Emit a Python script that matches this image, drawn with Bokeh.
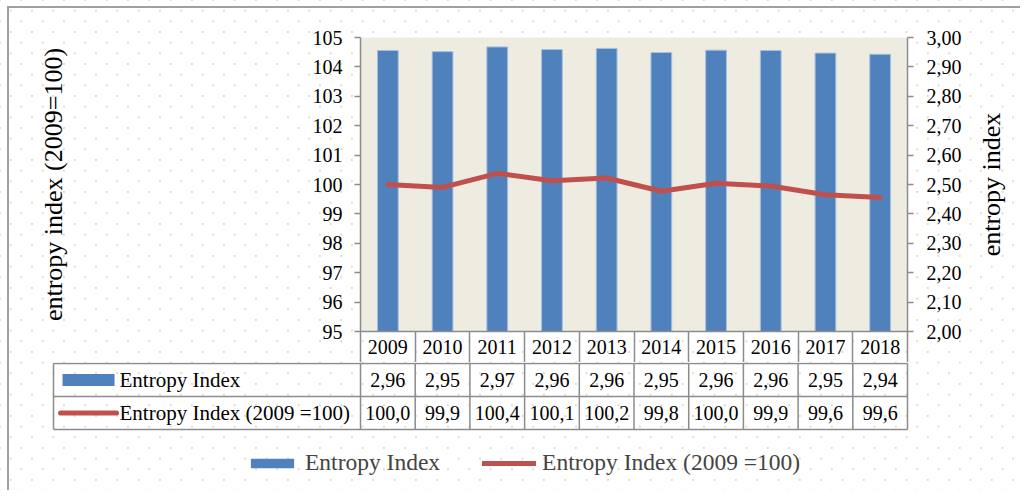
import math
from bokeh.plotting import figure
from bokeh.models import (Range1d, LinearAxis, FixedTicker, CustomJSTickFormatter,
                          Legend, LegendItem)
from bokeh.layouts import column, row
from bokeh.embed import file_html
from bokeh.resources import INLINE
from bokeh.core.properties import value

# ---------------- data ----------------
years = ["2009", "2010", "2011", "2012", "2013", "2014", "2015", "2016", "2017", "2018"]
entropy_index = [2.956, 2.952, 2.968, 2.959, 2.963, 2.949, 2.957, 2.956, 2.947, 2.943]
entropy_rel = [100.0, 99.90, 100.38, 100.13, 100.22, 99.77, 100.04, 99.95, 99.65, 99.56]
entropy_index_labels = ["2,96", "2,95", "2,97", "2,96", "2,96", "2,95", "2,96", "2,96", "2,95", "2,94"]
entropy_rel_labels = ["100,0", "99,9", "100,4", "100,1", "100,2", "99,8", "100,0", "99,9", "99,6", "99,6"]
left_ticks = [95, 96, 97, 98, 99, 100, 101, 102, 103, 104, 105]
right_ticks = [2.0, 2.1, 2.2, 2.3, 2.4, 2.5, 2.6, 2.7, 2.8, 2.9, 3.0]
series_names = ["Entropy Index", "Entropy Index (2009 =100)"]
left_title = "entropy index (2009=100)"
right_title = "entropy index"

# ---------------- style ----------------
FONT = "Liberation Serif"
BLUE = "#4F81BD"
RED = "#C0504D"
PLOT_BG = "#EEECE1"
GRID = "#8c8c8c"
W = 1020
W_MAIN = 973
n = len(years)
xc = [i + 0.5 for i in range(n)]   # category centres on the year axis

# ---------------- main chart ----------------
p = figure(width=W_MAIN, height=362, x_range=Range1d(0, n), y_range=Range1d(95, 105),
           output_backend="svg", toolbar_location=None,
           min_border_left=360, min_border_right=W_MAIN - 360 - 547, min_border_top=37,
           min_border_bottom=31)
p.frame_align = False
p.extra_y_ranges = {"right": Range1d(2, 3)}
p.background_fill_color = PLOT_BG
p.border_fill_color = None
p.outline_line_color = None
p.grid.visible = False

p.vbar(x=xc, top=entropy_index, bottom=2, width=0.38, y_range_name="right",
       fill_color=BLUE, line_color="#a9c1de", line_width=1)
p.line(x=xc, y=entropy_rel, line_color=RED, line_width=5,
       line_cap="round", line_join="round")

def style_axis(ax, size="20px"):
    ax.axis_line_color = GRID
    ax.axis_line_width = 1.5
    ax.major_tick_line_color = GRID
    ax.major_tick_line_width = 1.5
    ax.major_label_text_font = FONT
    ax.major_label_text_font_size = size
    ax.major_label_text_color = "black"
    ax.axis_label_text_font = FONT
    ax.axis_label_text_font_size = "26px"
    ax.axis_label_text_font_style = "normal"
    ax.axis_label_text_color = "black"

ya = p.yaxis[0]
ya.ticker = FixedTicker(ticks=left_ticks, minor_ticks=[])
style_axis(ya)
ya.major_tick_out = 6
ya.major_tick_in = 0
ya.major_label_standoff = 12
ya.axis_label = left_title
ya.axis_label_standoff = 242

ra = LinearAxis(y_range_name="right", ticker=FixedTicker(ticks=right_ticks, minor_ticks=[]),
                formatter=CustomJSTickFormatter(code="return tick.toFixed(2).replace('.', ',');"))
style_axis(ra)
ra.major_tick_out = 6
ra.major_tick_in = 0
ra.major_label_standoff = 13
p.add_layout(ra, "right")

ca = p.xaxis[0]
ca.ticker = FixedTicker(ticks=xc, minor_ticks=list(range(n + 1)))
ca.formatter = CustomJSTickFormatter(args=dict(labels=years),
                                     code="return labels[Math.floor(tick)];")
style_axis(ca)
ca.major_tick_out = 0
ca.major_tick_in = 0
ca.minor_tick_out = 31
ca.minor_tick_in = 0
ca.minor_tick_line_color = GRID
ca.minor_tick_line_width = 1.5
ca.major_label_standoff = -23

# ---------------- right-hand axis title (reads bottom-to-top) ----------------
rf = figure(width=W - W_MAIN, height=362, y_range=Range1d(2, 3), x_range=Range1d(0, 1),
            x_axis_location=None, output_backend="svg", toolbar_location=None,
            min_border_left=0, min_border_right=0, min_border_top=37, min_border_bottom=31)
rf.frame_align = False
rf.background_fill_color = None
rf.border_fill_color = None
rf.outline_line_color = None
rf.grid.visible = False
rax = rf.yaxis[0]
rax.ticker = FixedTicker(ticks=[], minor_ticks=[])
rax.axis_line_color = None
rax.major_tick_line_color = None
rax.minor_tick_line_color = None
rax.axis_label = right_title
rax.axis_label_standoff = 0
rax.axis_label_text_font = FONT
rax.axis_label_text_font_size = "26px"
rax.axis_label_text_font_style = "normal"
rax.axis_label_text_color = "black"

# ---------------- data table + legend ----------------
LABEL_W = 5.613
xpad = 2 / 54.7
row_px = 33.0
ytop = 2.03
ystart = ytop - 128 / row_px
tb = figure(width=W, height=128, x_range=Range1d(-LABEL_W - xpad, n + xpad),
            y_range=Range1d(ystart, ytop), x_axis_location=None, y_axis_location=None,
            output_backend="svg", toolbar_location=None,
            min_border_left=51, min_border_right=111, min_border_top=0, min_border_bottom=0)
tb.frame_align = False
tb.background_fill_color = None
tb.border_fill_color = None
tb.outline_line_color = None
tb.grid.visible = False

x0 = list(range(n + 1)) + [-LABEL_W] + [-LABEL_W] * 3
y0 = [0] * (n + 1) + [0] + [0, 1, 2]
x1 = list(range(n + 1)) + [-LABEL_W] + [n] * 3
y1 = [2] * (n + 1) + [2] + [0, 1, 2]
tb.segment(x0=x0, y0=y0, x1=x1, y1=y1, line_color=GRID, line_width=1.5)

tb.text(x=xc, y=[1.5] * n, text=entropy_index_labels,
        text_align="center", text_baseline="middle", text_font=value(FONT),
        text_font_size="20px", text_color="black")
tb.text(x=xc, y=[0.5] * n, text=entropy_rel_labels,
        text_align="center", text_baseline="middle", text_font=value(FONT),
        text_font_size="20px", text_color="black")

sw_bar = tb.quad(left=[-5.448], right=[-4.497], bottom=[1.5 - 0.18], top=[1.5 + 0.18],
                 fill_color=BLUE, line_color=None)
sw_line = tb.line(x=[-5.484, -4.461], y=[0.5, 0.5], line_color=RED, line_width=5,
                  line_cap="round")
tb.text(x=[-4.406, -4.406], y=[1.5, 0.5], text=series_names, text_align="left",
        text_baseline="middle", text_font=value(FONT), text_font_size="21px",
        text_color="black")

legend = Legend(items=[LegendItem(label=series_names[0], renderers=[sw_bar]),
                       LegendItem(label=series_names[1], renderers=[sw_line])],
                location=(194, 14), orientation="horizontal", glyph_width=54,
                glyph_height=12, label_standoff=6, spacing=42, padding=0, margin=0,
                border_line_color=None, background_fill_alpha=0,
                label_text_font=FONT, label_text_font_size="23.5px")
tb.add_layout(legend)

dot = "radial-gradient(circle at center, #e0dcc8 0.8px, rgba(255,255,255,0) 1.3px)"
line = "linear-gradient(#a0a0a0, #a0a0a0)"
layout = column(row(p, rf, spacing=0), tb, spacing=0, styles={
    "background-color": "white",
    "background-image": ", ".join([line, line, dot, dot]),
    "background-size": "100% 2px, 2px 100%, 21.33px 21.33px, 21.33px 21.33px",
    "background-position": "7px 6px, 7px 6px, 0px 0px, 10.67px 10.67px",
    "background-repeat": "no-repeat, no-repeat, repeat, repeat",
})

open("out.html", "w").write(file_html(layout, INLINE))
